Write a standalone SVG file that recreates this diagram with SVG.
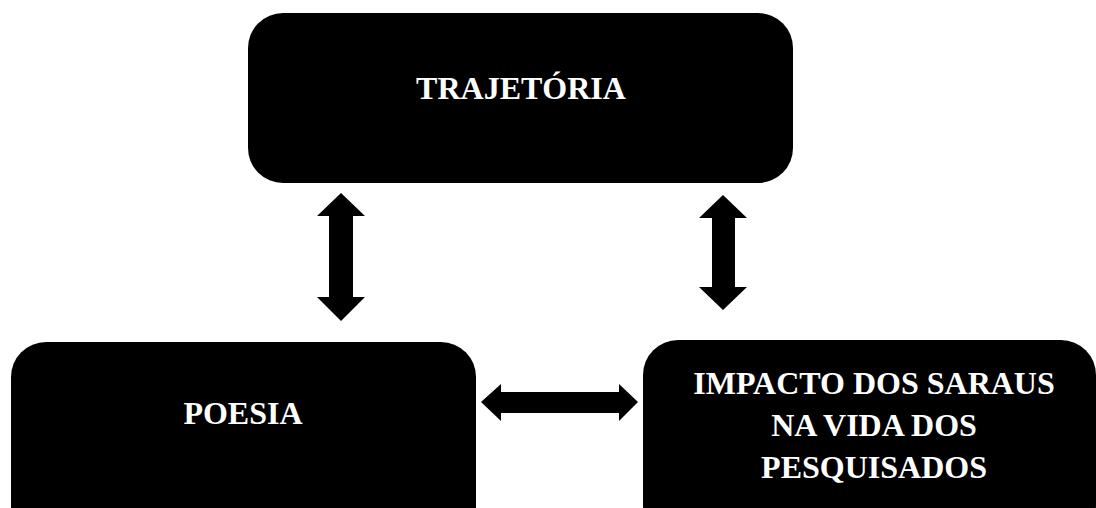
<svg xmlns="http://www.w3.org/2000/svg" width="1096" height="508" viewBox="0 0 1096 508">
<style>
.box{fill:#000}
.lbl{fill:#fff;font-family:"Liberation Serif","Times New Roman",serif;font-weight:bold;font-size:32px;text-anchor:middle}
.arr{fill:#000}
</style>
<rect width="1096" height="508" fill="#fff"/>
<g id="trajetoria">
<rect class="box" x="248" y="13" width="545" height="170" rx="35" ry="35"/>
<text class="lbl" x="521" y="99">TRAJETÓRIA</text>
</g>
<g id="poesia">
<rect class="box" x="11" y="342" width="465" height="200" rx="35" ry="35"/>
<text class="lbl" x="243" y="424">POESIA</text>
</g>
<g id="impacto">
<rect class="box" x="643" y="340" width="453" height="200" rx="35" ry="35"/>
<text class="lbl" x="874" y="394">IMPACTO DOS SARAUS</text>
<text class="lbl" x="874" y="436">NA VIDA DOS</text>
<text class="lbl" x="874" y="478">PESQUISADOS</text>
</g>
<g id="connectors">
<polygon class="arr" points="341,193 365,216 353,216 353,297 365,297 341,321 317,297 329,297 329,216 317,216"/>
<polygon class="arr" points="723,195 747,218 735,218 735,287 747,287 723,310 699,287 712,287 712,218 699,218"/>
<polygon class="arr" points="481,402 501,384 501,392 619,392 619,384 638,402 619,421 619,413 501,413 501,421"/>
</g>
</svg>
